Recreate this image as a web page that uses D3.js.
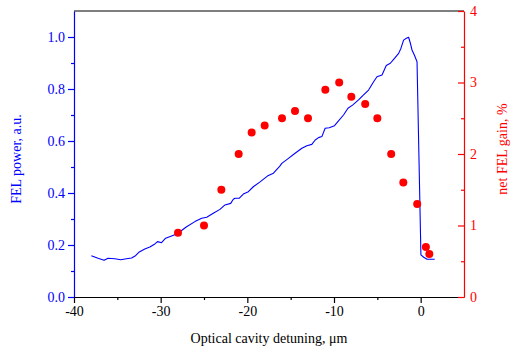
<!DOCTYPE html>
<html>
<head>
<meta charset="utf-8">
<script src="https://cdn.jsdelivr.net/npm/d3@7"></script>
<style>
  body { margin: 0; background: #fff; }
  svg text { font-family: 'Liberation Serif', 'Times New Roman', Times, 'DejaVu Serif', serif !important; }
</style>
</head>
<body>
<div id="chart"></div>
<script>
// FEL power trace (detuning in um, power in a.u.)
const powerX = [-38.0, -37.23, -36.53, -36.07, -35.29, -34.6, -33.94, -33.36, -32.9, -32.52, -31.83, -31.25,
  -30.67, -30.36, -29.9, -29.43, -28.74, -28.16, -27.78, -27.01, -26.05, -25.27, -24.69, -23.93, -23.16,
  -22.58, -21.92, -21.62, -21.42, -20.92, -20.46, -19.88, -19.31, -18.53, -17.69, -16.99, -16.3, -16.02,
  -15.26, -14.49, -13.71, -13.13, -12.56, -12.17, -11.79, -11.4, -11.02, -10.55, -9.94, -9.48, -8.9, -8.39,
  -7.86, -7.17, -6.59, -6.01, -5.43, -5.04, -4.46, -3.97, -3.5, -3.12, -2.54, -2.27, -1.97, -1.65, -1.39,
  -1.19, -1.0, -0.73, -0.42, 0.03, 0.35, 0.74, 1.62];
const powerY = [0.159, 0.149, 0.141, 0.149, 0.147, 0.143, 0.147, 0.150, 0.159, 0.172, 0.185, 0.192,
  0.204, 0.213, 0.209, 0.226, 0.235, 0.242, 0.251, 0.270, 0.290, 0.303, 0.307, 0.322, 0.337,
  0.354, 0.360, 0.376, 0.380, 0.380, 0.396, 0.405, 0.424, 0.443, 0.465, 0.476, 0.501, 0.514,
  0.533, 0.553, 0.572, 0.582, 0.587, 0.604, 0.613, 0.617, 0.649, 0.651, 0.659, 0.677, 0.700, 0.726,
  0.738, 0.758, 0.777, 0.796, 0.828, 0.847, 0.854, 0.890, 0.899, 0.914, 0.937, 0.957, 0.988, 0.995, 0.999,
  0.976, 0.950, 0.931, 0.905, 0.162, 0.153, 0.145, 0.145];

// net FEL gain measurements (%)
const gainX = [-28, -25, -23, -21, -19.5, -18, -16, -14.5, -13, -11, -9.4, -8, -6.4, -5, -3.4, -2, -0.4, 0.6, 1.0];
const gainY = [0.9, 1.0, 1.5, 2.0, 2.3, 2.4, 2.5, 2.6, 2.5, 2.9, 3.0, 2.8, 2.7, 2.5, 2.0, 1.6, 1.3, 0.7, 0.6];

const xTicks = [-40, -30, -20, -10, 0];
const leftTicks = [0, 0.2, 0.4, 0.6, 0.8, 1.0];
const rightTicks = [0, 1, 2, 3, 4];

const W = 511, H = 350;
const margin = {top: 11, right: 47, bottom: 53, left: 74};
const blue = "#0000ff", red = "#ff0000";
const serif = "'Liberation Serif', 'Times New Roman', Times, serif";
const fs = 14;

const svg = d3.select("#chart").append("svg")
  .attr("width", W).attr("height", H)
  .attr("font-family", serif);

const x = d3.scaleLinear().domain([-40, 5]).range([margin.left, W - margin.right]);
const yL = d3.scaleLinear().domain([0, 1.1]).range([H - margin.bottom, margin.top]);
const yR = d3.scaleLinear().domain([0, 4]).range([H - margin.bottom, margin.top]);

// top frame
svg.append("line")
  .attr("x1", x(-40)).attr("x2", x(5))
  .attr("y1", margin.top).attr("y2", margin.top)
  .attr("stroke", "#000").attr("stroke-width", 1.2);

function styleAxis(g, color) {
  g.attr("font-family", serif).attr("font-size", fs);
  g.selectAll("path").attr("stroke", color).attr("stroke-width", 1.2);
  g.selectAll("line").attr("stroke", color).attr("stroke-width", 1.2);
  g.selectAll("text").attr("fill", color);
}

// bottom axis: minor then major
svg.append("g")
  .attr("transform", `translate(0,${H - margin.bottom})`)
  .call(d3.axisBottom(x).tickValues(d3.range(-35, 5, 10)).tickSize(3).tickFormat(""))
  .call(g => g.select(".domain").remove())
  .call(g => styleAxis(g, "#000"));
svg.append("g")
  .attr("transform", `translate(0,${H - margin.bottom})`)
  .call(d3.axisBottom(x).tickValues(xTicks).tickSize(6).tickSizeOuter(0).tickPadding(3)
    .tickFormat(d => String(d)))
  .call(g => styleAxis(g, "#000"));

// left axis
svg.append("g")
  .attr("transform", `translate(${margin.left},0)`)
  .call(d3.axisLeft(yL).tickValues([0.1, 0.3, 0.5, 0.7, 0.9]).tickSize(3).tickFormat(""))
  .call(g => g.select(".domain").remove())
  .call(g => styleAxis(g, blue));
svg.append("g")
  .attr("transform", `translate(${margin.left},0)`)
  .call(d3.axisLeft(yL).tickValues(leftTicks).tickSize(6).tickSizeOuter(0).tickPadding(3)
    .tickFormat(d => d.toFixed(1)))
  .call(g => styleAxis(g, blue));

// right axis, ticks pointing inward
const xr = W - margin.right;
svg.append("g")
  .attr("transform", `translate(${xr},0)`)
  .call(d3.axisRight(yR).tickValues([0.5, 1.5, 2.5, 3.5]).tickSize(-3).tickFormat(""))
  .call(g => g.select(".domain").remove())
  .call(g => styleAxis(g, red));
svg.append("g")
  .attr("transform", `translate(${xr},0)`)
  .call(d3.axisRight(yR).tickValues(rightTicks).tickSize(-6).tickSizeOuter(0).tickPadding(6)
    .tickFormat(d => String(d)))
  .call(g => styleAxis(g, red));

// power line
const line = d3.line()
  .x((d, i) => x(powerX[i]))
  .y(d => yL(d));
svg.append("path")
  .datum(powerY)
  .attr("fill", "none")
  .attr("stroke", blue)
  .attr("stroke-width", 1.1)
  .attr("stroke-linejoin", "round")
  .attr("d", line);

// gain dots
svg.selectAll(".dot")
  .data(gainY)
  .enter()
  .append("circle")
  .attr("class", "dot")
  .attr("cx", (d, i) => x(gainX[i]))
  .attr("cy", d => yR(d))
  .attr("r", 4)
  .attr("fill", red);

// axis titles
svg.append("text")
  .attr("x", 269)
  .attr("y", 343)
  .attr("text-anchor", "middle")
  .attr("font-size", fs)
  .attr("fill", "#000")
  .text("Optical cavity detuning, μm");

svg.append("text")
  .attr("transform", "translate(21,159) rotate(-90)")
  .attr("text-anchor", "middle")
  .attr("font-size", fs)
  .attr("fill", blue)
  .text("FEL power, a.u.");

svg.append("text")
  .attr("transform", "translate(507,149) rotate(-90)")
  .attr("text-anchor", "middle")
  .attr("font-size", fs)
  .attr("fill", red)
  .text("net FEL gain, %");
</script>
</body>
</html>
